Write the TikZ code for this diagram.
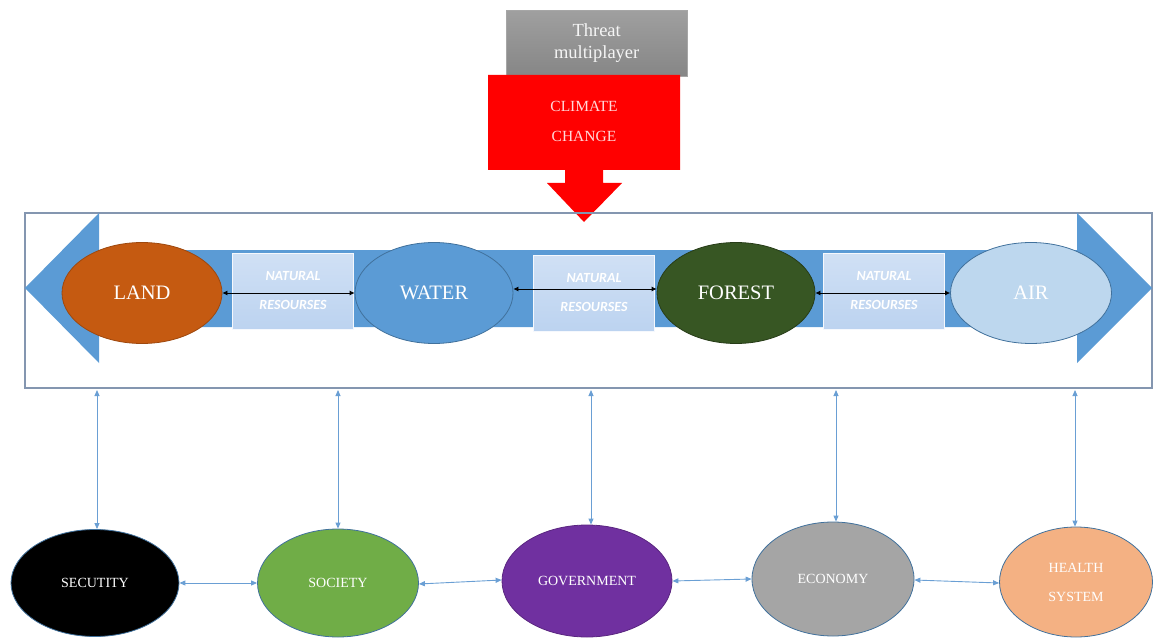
\documentclass[tikz,border=0pt]{standalone}
\usepackage{fontspec}
\setmainfont{Liberation Serif}
\newfontfamily\calib{Carlito}
\usetikzlibrary{shapes.geometric,arrows.meta}
\definecolor{bandblue}{HTML}{5B9BD5}
\definecolor{boxline}{HTML}{8496B0}
\definecolor{landc}{HTML}{C55A11}
\definecolor{waterc}{HTML}{5B9BD5}
\definecolor{forestc}{HTML}{375623}
\definecolor{airc}{HTML}{BDD7EE}
\definecolor{nrc}{HTML}{BCD3F0}
\definecolor{socc}{HTML}{70AD47}
\definecolor{govc}{HTML}{7030A0}
\definecolor{ecoc}{HTML}{A5A5A5}
\definecolor{healc}{HTML}{F4B183}
\definecolor{linkc}{HTML}{6A9FD4}
\definecolor{ellline}{HTML}{41719C}
\tikzset{
  topell/.style={ellipse, minimum width=160pt, minimum height=101pt, inner sep=0pt, draw=ellline, line width=0.8pt, font=\fontsize{20.5}{22}\selectfont, text=white},
  botell/.style={ellipse, inner sep=0pt, draw=ellline, line width=0.8pt, font=\fontsize{14}{29}\selectfont, text=white, align=center},
  nrbox/.style={rectangle, minimum width=121pt, minimum height=76pt, inner sep=0pt, draw=white!85!nrc, line width=0.8pt, top color=nrc!70!white, bottom color=nrc, font=\calib\bfseries\itshape\fontsize{14}{29}\selectfont, text=white, align=center},
  blink/.style={{Latex[length=5pt,width=5pt]}-{Latex[length=5pt,width=5pt]}, line width=0.8pt, black},
  vlink/.style={{Triangle[length=6pt,width=5pt]}-{Triangle[length=6pt,width=5pt]}, line width=0.9pt, linkc}
}
\begin{document}
\begin{tikzpicture}[x=1pt,y=-1pt]
\useasboundingbox (0,0) rectangle (1156,639);
% threat box
\node[rectangle, minimum width=181pt, minimum height=66pt, inner sep=0pt, top color=gray!75, bottom color=gray!95, draw=gray!70, text=white!92!gray, font=\fontsize{18.5}{23}\selectfont, align=center, anchor=north west] (threat) at (506,10) {\raisebox{4pt}{\begin{tabular}{@{}c@{}}Threat\\[-1pt]multiplayer\end{tabular}}};
% red block arrow
\fill[red] (488,75) -- (680,75) -- (680,170) -- (603,170) -- (603,183) -- (622,183) -- (584,222) -- (547,183) -- (565,183) -- (565,170) -- (488,170) -- cycle;
\node[text=white!85!red, font=\fontsize{15.5}{30}\selectfont, align=center] (cc) at (584,121) {CLIMATE\\CHANGE};
% outer box
\draw[boxline, line width=1.5pt] (25,213) rectangle (1152,388);
% blue double arrow
\fill[bandblue] (25,288) -- (99,213) -- (99,250) -- (1077,250) -- (1077,213) -- (1152,288) -- (1077,363) -- (1077,327) -- (99,327) -- (99,363) -- cycle;
% natural resources boxes
\node[nrbox] (nr1) at (293,291) {NATURAL\\RESOURSES};
\node[nrbox] (nr2) at (594,293) {NATURAL\\RESOURSES};
\node[nrbox] (nr3) at (884,291) {NATURAL\\RESOURSES};
% top ellipses
\node[topell, fill=landc, draw=landc!80!black] (land) at (142,293) {LAND};
\node[topell, fill=waterc, minimum width=158pt] (water) at (434,293) {WATER};
\node[topell, fill=forestc, draw=forestc!70!black, minimum width=158pt] (forest) at (736,293) {FOREST};
\node[topell, fill=airc, text=white, minimum width=161pt] (air) at (1031,293) {AIR};
% black links
\draw[blink] (land.east) -- (water.west);
\draw[blink] ([yshift=4pt]water.east) -- ([yshift=4pt]forest.west);
\draw[blink] (forest.east) -- (air.west);
% bottom ellipses
\node[botell, fill=black, minimum width=168pt, minimum height=107pt] (sec) at (95,583) {SECUTITY};
\node[botell, fill=socc, minimum width=161pt, minimum height=108pt] (soc) at (338,583) {SOCIETY};
\node[botell, fill=govc, draw=govc!80!black, minimum width=170pt, minimum height=112pt] (gov) at (587,581) {GOVERNMENT};
\node[botell, fill=ecoc, minimum width=162pt, minimum height=114pt] (eco) at (833,579) {ECONOMY};
\node[botell, fill=healc, minimum width=153pt, minimum height=110pt] (heal) at (1076,582) {HEALTH\\SYSTEM};
% vertical links
\coordinate (v1) at (97,390);
\coordinate (v2) at (338,390);
\coordinate (v3) at (591,390);
\coordinate (v4) at (836,390);
\coordinate (v5) at (1075,390);
\draw[vlink] (v1) -- (sec.north -| v1);
\draw[vlink] (v2) -- (soc.north -| v2);
\draw[vlink] (v3) -- (gov.north -| v3);
\draw[vlink] (v4) -- (eco.north -| v4);
\draw[vlink] (v5) -- (heal.north -| v5);
% horizontal links
\draw[vlink] (sec.east) -- (soc.west);
\draw[vlink] ([yshift=-1pt]soc.east) -- ([yshift=1pt]gov.west);
\draw[vlink] (gov.east) -- (eco.west);
\draw[vlink] ([yshift=-1pt]eco.east) -- ([yshift=-1pt]heal.west);
\end{tikzpicture}
\end{document}
